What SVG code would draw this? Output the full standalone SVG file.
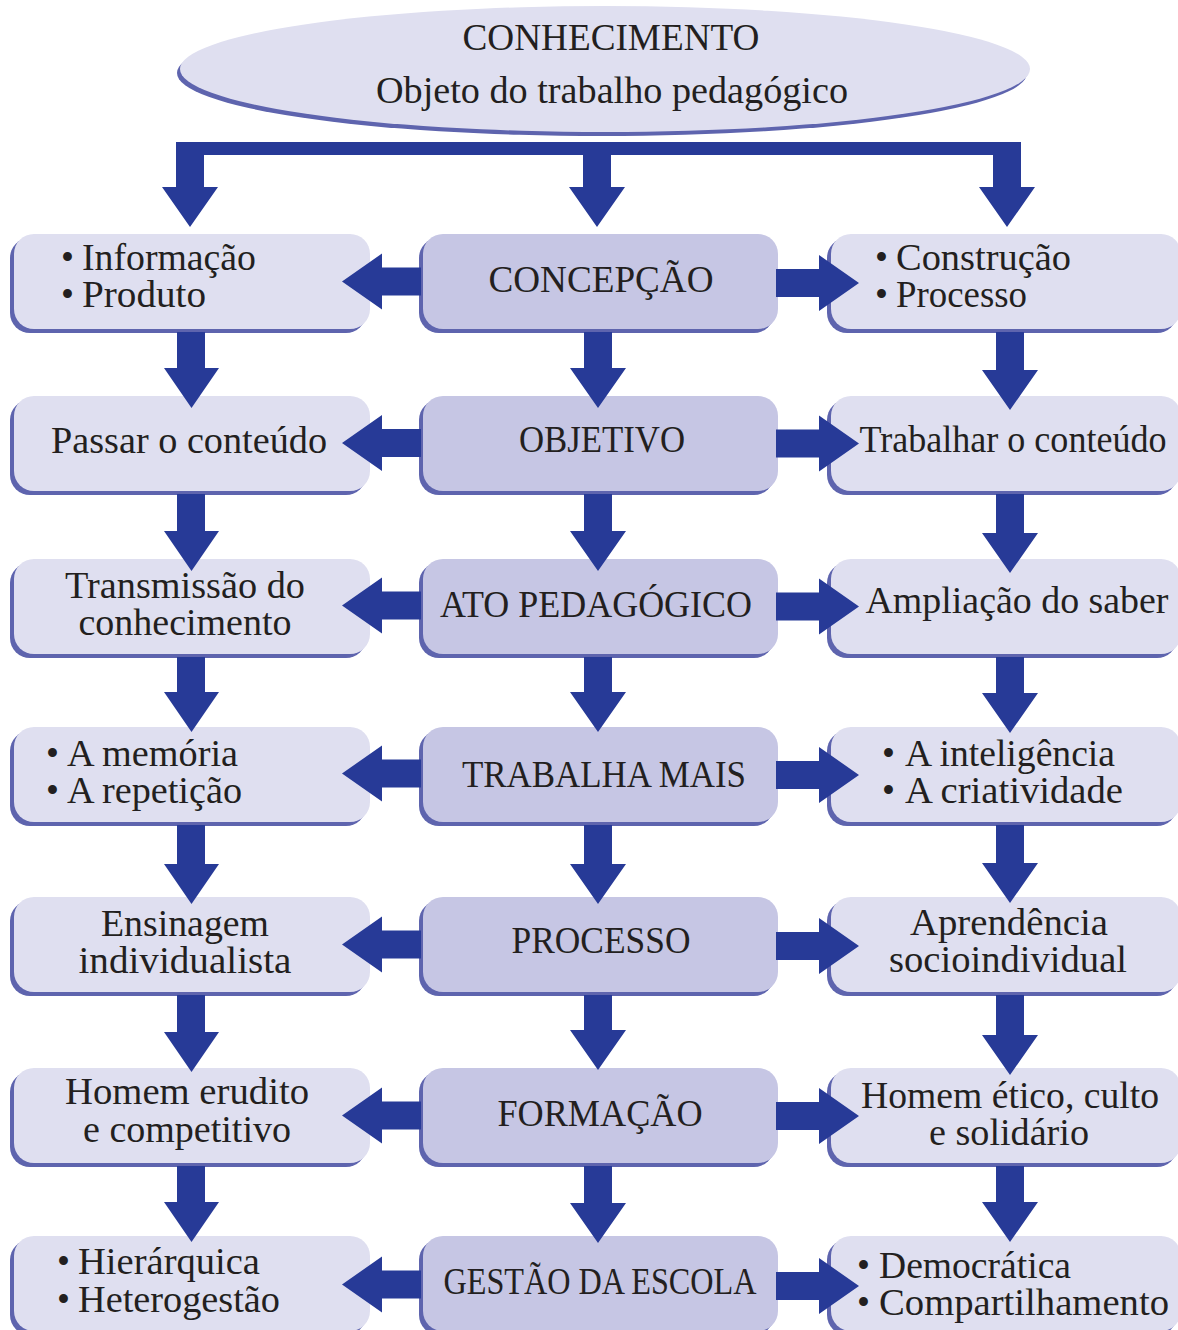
<svg xmlns="http://www.w3.org/2000/svg" width="1178" height="1330" viewBox="0 0 1178 1330">
<style>
.sh{fill:#5e64ae}
.lb{fill:#dfdff0}
.cb{fill:#c6c6e4}
.arr{fill:#273a97}
text{font-family:"Liberation Serif","Times New Roman",serif;font-size:37px;fill:#231f20}
.m{text-anchor:middle}
</style>
<rect width="1178" height="1330" fill="#ffffff"/>

<g id="conhecimento">
<ellipse class="sh" cx="602" cy="73" rx="425" ry="63"/>
<ellipse class="lb" cx="605" cy="69" rx="425" ry="63"/>
<text class="m" x="611" y="50" textLength="297" lengthAdjust="spacingAndGlyphs">CONHECIMENTO</text>
<text class="m" x="612" y="103" textLength="472" lengthAdjust="spacingAndGlyphs">Objeto do trabalho pedagógico</text>
</g>

<!-- Row 1 -->
<g id="informacao">
<rect class="sh" x="10" y="238" width="356" height="95" rx="20"/>
<rect class="lb" x="14" y="234" width="356" height="95" rx="20"/>
<text x="61" y="270">•</text><text x="82" y="270" textLength="174" lengthAdjust="spacingAndGlyphs">Informação</text>
<text x="61" y="307">•</text><text x="82" y="307" textLength="124" lengthAdjust="spacingAndGlyphs">Produto</text>
</g>
<g id="concepcao">
<rect class="sh" x="419" y="238" width="355" height="95" rx="20"/>
<rect class="cb" x="423" y="234" width="355" height="95" rx="20"/>
<text class="m" x="601" y="292" textLength="225" lengthAdjust="spacingAndGlyphs">CONCEPÇÃO</text>
</g>
<g id="construcao">
<rect class="sh" x="827" y="238" width="350" height="95" rx="20"/>
<rect class="lb" x="831" y="234" width="350" height="95" rx="20"/>
<text x="875" y="270">•</text><text x="896" y="270" textLength="175" lengthAdjust="spacingAndGlyphs">Construção</text>
<text x="875" y="307">•</text><text x="896" y="307" textLength="131" lengthAdjust="spacingAndGlyphs">Processo</text>
</g>

<!-- Row 2 -->
<g id="passar">
<rect class="sh" x="10" y="400" width="356" height="95" rx="20"/>
<rect class="lb" x="14" y="396" width="356" height="95" rx="20"/>
<text class="m" x="189" y="453" textLength="276" lengthAdjust="spacingAndGlyphs">Passar o conteúdo</text>
</g>
<g id="objetivo">
<rect class="sh" x="419" y="400" width="355" height="95" rx="20"/>
<rect class="cb" x="423" y="396" width="355" height="95" rx="20"/>
<text class="m" x="602" y="452" textLength="166" lengthAdjust="spacingAndGlyphs">OBJETIVO</text>
</g>
<g id="trabalhar">
<rect class="sh" x="827" y="400" width="350" height="95" rx="20"/>
<rect class="lb" x="831" y="396" width="350" height="95" rx="20"/>
<text class="m" x="1013" y="452" textLength="307" lengthAdjust="spacingAndGlyphs">Trabalhar o conteúdo</text>
</g>

<!-- Row 3 -->
<g id="transmissao">
<rect class="sh" x="10" y="563" width="356" height="95" rx="20"/>
<rect class="lb" x="14" y="559" width="356" height="95" rx="20"/>
<text class="m" x="185" y="598" textLength="240" lengthAdjust="spacingAndGlyphs">Transmissão do</text>
<text class="m" x="185" y="635" textLength="213" lengthAdjust="spacingAndGlyphs">conhecimento</text>
</g>
<g id="ato">
<rect class="sh" x="419" y="563" width="355" height="95" rx="20"/>
<rect class="cb" x="423" y="559" width="355" height="95" rx="20"/>
<text class="m" x="596" y="617" textLength="312" lengthAdjust="spacingAndGlyphs">ATO PEDAGÓGICO</text>
</g>
<g id="ampliacao">
<rect class="sh" x="827" y="563" width="350" height="95" rx="20"/>
<rect class="lb" x="831" y="559" width="350" height="95" rx="20"/>
<text class="m" x="1017" y="613" textLength="303" lengthAdjust="spacingAndGlyphs">Ampliação do saber</text>
</g>

<!-- Row 4 -->
<g id="memoria">
<rect class="sh" x="10" y="731" width="356" height="95" rx="20"/>
<rect class="lb" x="14" y="727" width="356" height="95" rx="20"/>
<text x="46" y="766">•</text><text x="67" y="766" textLength="171" lengthAdjust="spacingAndGlyphs">A memória</text>
<text x="46" y="803">•</text><text x="67" y="803" textLength="175" lengthAdjust="spacingAndGlyphs">A repetição</text>
</g>
<g id="trabalha">
<rect class="sh" x="419" y="731" width="355" height="95" rx="20"/>
<rect class="cb" x="423" y="727" width="355" height="95" rx="20"/>
<text class="m" x="604" y="787" textLength="284" lengthAdjust="spacingAndGlyphs">TRABALHA MAIS</text>
</g>
<g id="inteligencia">
<rect class="sh" x="827" y="731" width="350" height="95" rx="20"/>
<rect class="lb" x="831" y="727" width="350" height="95" rx="20"/>
<text x="882" y="766">•</text><text x="905" y="766" textLength="210" lengthAdjust="spacingAndGlyphs">A inteligência</text>
<text x="882" y="803">•</text><text x="905" y="803" textLength="218" lengthAdjust="spacingAndGlyphs">A criatividade</text>
</g>

<!-- Row 5 -->
<g id="ensinagem">
<rect class="sh" x="10" y="901" width="356" height="95" rx="20"/>
<rect class="lb" x="14" y="897" width="356" height="95" rx="20"/>
<text class="m" x="185" y="936" textLength="168" lengthAdjust="spacingAndGlyphs">Ensinagem</text>
<text class="m" x="185" y="973" textLength="213" lengthAdjust="spacingAndGlyphs">individualista</text>
</g>
<g id="processo">
<rect class="sh" x="419" y="901" width="355" height="95" rx="20"/>
<rect class="cb" x="423" y="897" width="355" height="95" rx="20"/>
<text class="m" x="601" y="953" textLength="179" lengthAdjust="spacingAndGlyphs">PROCESSO</text>
</g>
<g id="aprendencia">
<rect class="sh" x="827" y="901" width="350" height="95" rx="20"/>
<rect class="lb" x="831" y="897" width="350" height="95" rx="20"/>
<text class="m" x="1009" y="935" textLength="198" lengthAdjust="spacingAndGlyphs">Aprendência</text>
<text class="m" x="1008" y="972" textLength="238" lengthAdjust="spacingAndGlyphs">socioindividual</text>
</g>

<!-- Row 6 -->
<g id="erudito">
<rect class="sh" x="10" y="1072" width="356" height="95" rx="20"/>
<rect class="lb" x="14" y="1068" width="356" height="95" rx="20"/>
<text class="m" x="187" y="1104" textLength="244" lengthAdjust="spacingAndGlyphs">Homem erudito</text>
<text class="m" x="187" y="1142" textLength="208" lengthAdjust="spacingAndGlyphs">e competitivo</text>
</g>
<g id="formacao">
<rect class="sh" x="419" y="1072" width="355" height="95" rx="20"/>
<rect class="cb" x="423" y="1068" width="355" height="95" rx="20"/>
<text class="m" x="600" y="1126" textLength="205" lengthAdjust="spacingAndGlyphs">FORMAÇÃO</text>
</g>
<g id="etico">
<rect class="sh" x="827" y="1072" width="350" height="95" rx="20"/>
<rect class="lb" x="831" y="1068" width="350" height="95" rx="20"/>
<text class="m" x="1010" y="1108" textLength="298" lengthAdjust="spacingAndGlyphs">Homem ético, culto</text>
<text class="m" x="1009" y="1145" textLength="160" lengthAdjust="spacingAndGlyphs">e solidário</text>
</g>

<!-- Row 7 -->
<g id="hierarquica">
<rect class="sh" x="10" y="1240" width="356" height="95" rx="20"/>
<rect class="lb" x="14" y="1236" width="356" height="95" rx="20"/>
<text x="57" y="1274">•</text><text x="78" y="1274" textLength="182" lengthAdjust="spacingAndGlyphs">Hierárquica</text>
<text x="57" y="1312">•</text><text x="78" y="1312" textLength="202" lengthAdjust="spacingAndGlyphs">Heterogestão</text>
</g>
<g id="gestao">
<rect class="sh" x="419" y="1240" width="355" height="95" rx="20"/>
<rect class="cb" x="423" y="1236" width="355" height="95" rx="20"/>
<text class="m" x="600" y="1294" textLength="313" lengthAdjust="spacingAndGlyphs">GESTÃO DA ESCOLA</text>
</g>
<g id="democratica">
<rect class="sh" x="827" y="1240" width="350" height="95" rx="20"/>
<rect class="lb" x="831" y="1236" width="350" height="95" rx="20"/>
<text x="857" y="1278">•</text><text x="879" y="1278" textLength="192" lengthAdjust="spacingAndGlyphs">Democrática</text>
<text x="857" y="1315">•</text><text x="879" y="1315" textLength="290" lengthAdjust="spacingAndGlyphs">Compartilhamento</text>
</g>

<g id="connectors" class="arr">
<!-- top bracket -->
<path d="M176,142 H1021 V187 H1035 L1007,227 L979,187 H993 V155 H611 V187 H625 L597,227 L569,187 H583 V155 H204 V187 H218 L190,227 L162,187 H176 Z"/>

<!-- vertical arrows: left column -->
<path d="M177,332 H205 V368 H219 L191.5,408 L164,368 H177 Z"/>
<path d="M177,494 H205 V531 H219 L191.5,571 L164,531 H177 Z"/>
<path d="M177,657 H205 V692 H219 L191.5,732 L164,692 H177 Z"/>
<path d="M177,825 H205 V864 H219 L191.5,904 L164,864 H177 Z"/>
<path d="M177,995 H205 V1032 H219 L191.5,1072 L164,1032 H177 Z"/>
<path d="M177,1166 H205 V1202 H219 L191.5,1242 L164,1202 H177 Z"/>

<!-- vertical arrows: middle column -->
<path d="M584,332 H612 V368 H626 L598,408 L570,368 H584 Z"/>
<path d="M584,494 H612 V531 H626 L598,571 L570,531 H584 Z"/>
<path d="M584,657 H612 V692 H626 L598,732 L570,692 H584 Z"/>
<path d="M584,825 H612 V864 H626 L598,904 L570,864 H584 Z"/>
<path d="M584,995 H612 V1030 H626 L598,1070 L570,1030 H584 Z"/>
<path d="M584,1166 H612 V1203 H626 L598,1243 L570,1203 H584 Z"/>

<!-- vertical arrows: right column -->
<path d="M996,332 H1024 V370 H1038 L1010,410 L982,370 H996 Z"/>
<path d="M996,494 H1024 V533 H1038 L1010,573 L982,533 H996 Z"/>
<path d="M996,657 H1024 V693 H1038 L1010,733 L982,693 H996 Z"/>
<path d="M996,825 H1024 V863 H1038 L1010,903 L982,863 H996 Z"/>
<path d="M996,995 H1024 V1035 H1038 L1010,1075 L982,1035 H996 Z"/>
<path d="M996,1166 H1024 V1202 H1038 L1010,1242 L982,1202 H996 Z"/>

<!-- horizontal arrows: left -->
<path d="M421,267.5 H382 V253.5 L342,281.5 L382,309.5 V295.5 H421 Z"/>
<path d="M421,429 H382 V415 L342,443 L382,471 V457 H421 Z"/>
<path d="M421,591.5 H382 V577.5 L342,605.5 L382,633.5 V619.5 H421 Z"/>
<path d="M421,759.5 H382 V745.5 L342,773.5 L382,801.5 V787.5 H421 Z"/>
<path d="M421,930.5 H382 V916.5 L342,944.5 L382,972.5 V958.5 H421 Z"/>
<path d="M421,1101.5 H382 V1087.5 L342,1115.5 L382,1143.5 V1129.5 H421 Z"/>
<path d="M421,1270.5 H382 V1256.5 L342,1284.5 L382,1312.5 V1298.5 H421 Z"/>

<!-- horizontal arrows: right -->
<path d="M776,269 H819 V255 L859,283 L819,311 V297 H776 Z"/>
<path d="M776,429.5 H819 V415.5 L859,443.5 L819,471.5 V457.5 H776 Z"/>
<path d="M776,592.5 H819 V578.5 L859,606.5 L819,634.5 V620.5 H776 Z"/>
<path d="M776,761 H819 V747 L859,775 L819,803 V789 H776 Z"/>
<path d="M776,932 H819 V918 L859,946 L819,974 V960 H776 Z"/>
<path d="M776,1102 H819 V1088 L859,1116 L819,1144 V1130 H776 Z"/>
<path d="M776,1272 H819 V1258 L859,1286 L819,1314 V1300 H776 Z"/>
</g>
</svg>
